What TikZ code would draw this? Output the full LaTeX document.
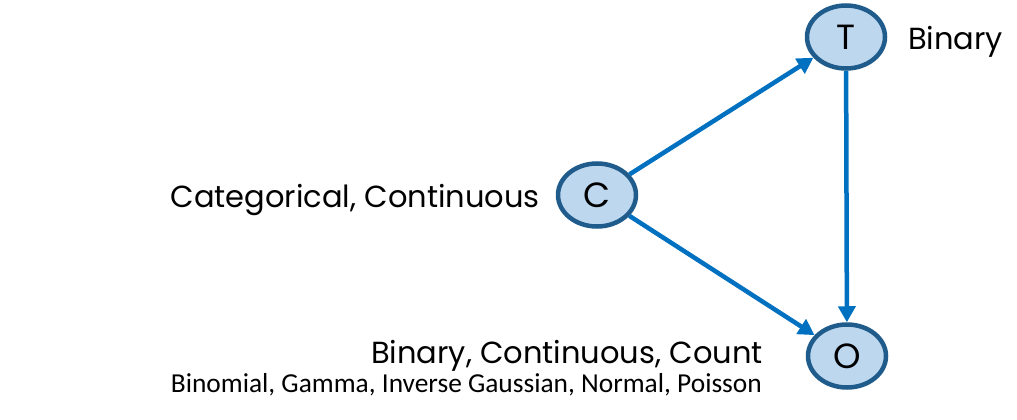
\documentclass[tikz,border=0pt]{standalone}
\usepackage{fontspec}
\setmainfont{Poppins}
\newfontfamily\calib{Carlito}
\usetikzlibrary{arrows.meta,shapes.geometric}
\definecolor{edgeblue}{HTML}{0070C0}
\definecolor{ringblue}{HTML}{1F5C8C}
\definecolor{fillblue}{HTML}{BDD7EE}
\tikzset{
  var/.style={ellipse, draw=ringblue, fill=fillblue, line width=4.5pt, minimum width=78pt, minimum height=63pt, inner sep=0pt, font=\fontsize{35}{35}\selectfont},
  link/.style={draw=edgeblue, line width=4.5pt, -{Triangle[length=16pt,width=17pt]}},
  lab/.style={inner sep=0pt, font=\fontsize{30.5}{32}\selectfont}
}
\begin{document}
\begin{tikzpicture}[x=1pt,y=-1pt]
\useasboundingbox (0,0) rectangle (1017,420);
\node[var] (T) at (846,37) {T};
\node[var] (C) at (597,195) {C};
\node[var] (O) at (847,356) {O};
\draw[link] (C) -- (T);
\draw[link] (C) -- (O);
\draw[link] (T) -- (O);
\node[lab, anchor=base west] (lt) at (908,50) {Binary};
\node[lab, anchor=base east] (lc) at (540,207) {Categorical, Continuous};
\node[lab, anchor=base east] (lo) at (763,363) {Binary, Continuous, Count};
\node[inner sep=0pt, anchor=base east, font=\calib\fontsize{27.4}{28}\selectfont] (lo2) at (762,392) {Binomial, Gamma, Inverse Gaussian, Normal, Poisson};
\end{tikzpicture}
\end{document}
